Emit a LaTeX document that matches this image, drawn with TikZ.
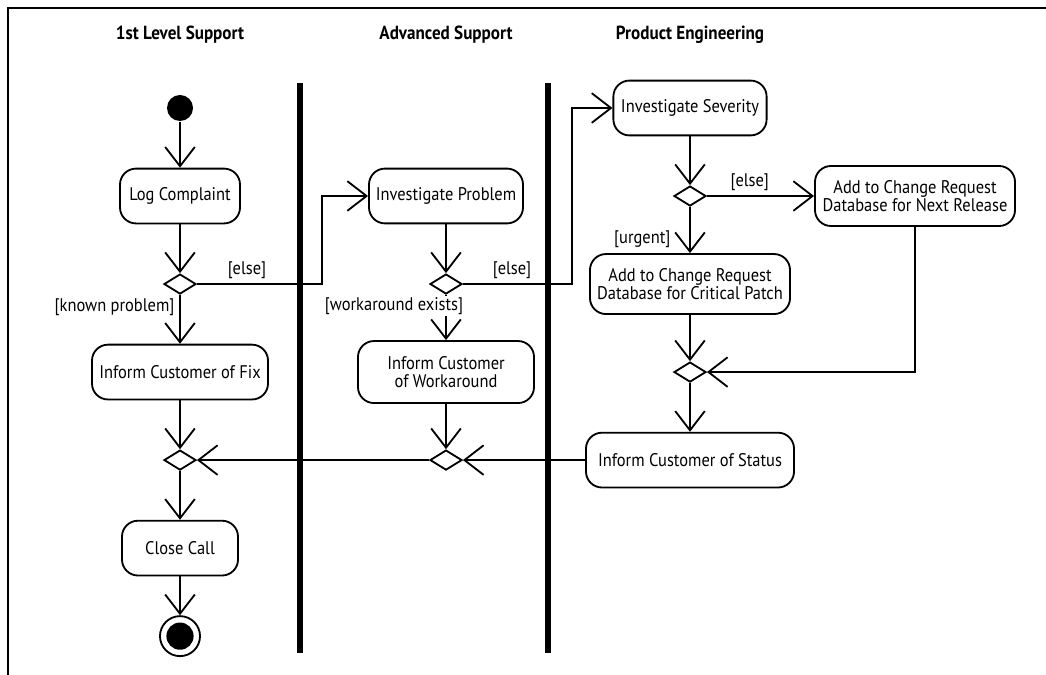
\documentclass[tikz,border=0pt]{standalone}
\usepackage{fontspec}
\setmainfont{PT Sans}[FakeStretch=0.9]
\usetikzlibrary{arrows.meta,shapes.geometric}

\begin{document}
\begin{tikzpicture}[x=0.025cm,y=-0.025cm,->,>={Straight Barb[length=0.48cm,width=0.74cm]},
			line width=1.3pt,node distance=2.2cm,font=\fontsize{13}{12.5}\selectfont,
			act/.style={rectangle,draw,rounded corners=0.4cm,align=center,minimum height=1.37cm},
			choice/.style={diamond,draw,inner sep=0pt,minimum width=0.8cm,minimum height=0.5cm},
			initial/.style={circle,fill=black,minimum size=0.65cm,inner sep=0pt},
			final/.style={circle,draw,minimum size=1cm,inner sep=0pt,
				path picture={\fill (path picture bounding box.center) circle (0.34cm);}},
			lane/.style={-,line width=4.5pt},
			head/.style={font=\fontsize{13.5}{13}\selectfont\bfseries}]
			\useasboundingbox (0,0) rectangle (1046,675);
			\draw[-,line width=1.6pt] (8,675) -- (8,8) -- (1046,8);
			\draw[lane] (300,83) -- (300,653);
			\draw[lane] (548,83) -- (548,653);
			\node[head] (h1) at (180,35) {1st Level Support};
			\node[head] (h2) at (446,35) {Advanced Support};
			\node[head] (h3) at (690,35) {Product Engineering};
			% 1st level support
			\node[initial] (start) at (180,108) {};
			\node[act, minimum width=3cm] (log) [below of=start] {Log Complaint};
			\node[choice] (d1) [below of=log] {};
			\node[act, minimum width=4.4cm] (fix) [below of=d1] {Inform Customer of Fix};
			\node[choice] (m1) [below of=fix] {};
			\node[act, minimum width=2.9cm] (close) [below of=m1] {Close Call};
			\node[final] (fin) [below of=close] {};
			% advanced support
			\node[act, minimum width=3.85cm] (prob) at (446,196) {Investigate Problem};
			\node[choice] (d2) [below of=prob] {};
			\node[act, minimum width=4.4cm, minimum height=1.55cm] (work) [below of=d2] {Inform Customer\\of Workaround};
			\node[choice] (m2) at (work |- m1) {};
			% product engineering
			\node[act, minimum width=3.83cm] (sev) at (690,108) {Investigate Severity};
			\node[choice] (d3) [below of=sev] {};
			\node[act, minimum width=5cm, minimum height=1.5cm] (next) at (915,196) {Add to Change Request\\Database for Next Release};
			\node[act, minimum width=5cm, minimum height=1.5cm] (crit) [below of=d3] {Add to Change Request\\Database for Critical Patch};
			\node[choice] (m3) [below of=crit] {};
			\node[act, minimum width=5.2cm] (status) [below of=m3] {Inform Customer of Status};
			\coordinate (k1) at (322,0);
			\coordinate (k2) at (572,0);
			\path (start) edge (log)
			(log) edge (d1)
			(d1) edge node[near start,left] {[known problem]} (fix)
			(fix) edge (m1)
			(m1) edge (close)
			(close) edge (fin);
			\path (prob) edge (d2)
			(d2) edge node[near start,fill=white,inner sep=1pt,xshift=-1.3cm] {[workaround exists]} (work)
			(work) edge (m2)
			(m2) edge (m1)
			(status) edge (m2);
			\path (sev) edge (d3)
			(d3) edge node[pos=0.4,above] {[else]} (next)
			(d3) edge node[pos=0.7,left=0.35cm] {[urgent]} (crit)
			(crit) edge (m3)
			(m3) edge (status);
			\draw (next) |- (m3);
			\draw (d1) -- node[pos=0.4,above] {[else]} (d1 -| k1) |- (prob);
			\draw (d2) -- node[pos=0.45,above] {[else]} (d2 -| k2) |- (sev);
		\end{tikzpicture}
\end{document}
